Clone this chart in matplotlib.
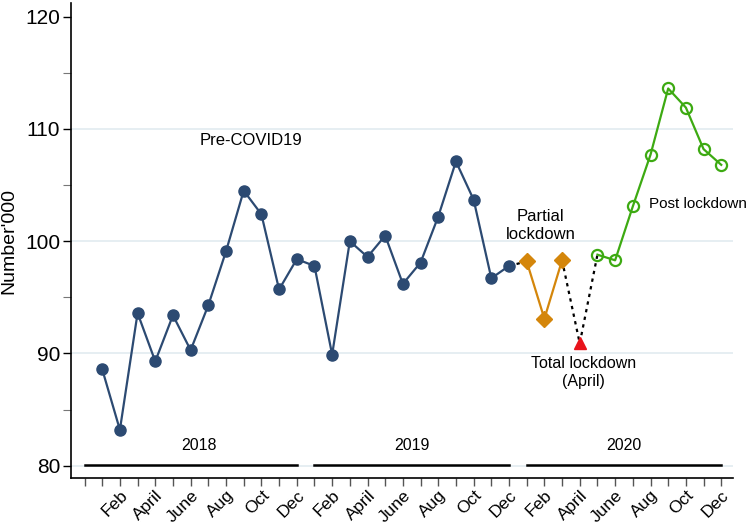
import numpy as np
import matplotlib.pyplot as plt

plt.rcParams['font.family'] = ['Liberation Sans', 'DejaVu Sans']

# Datos mensuales (miles), enero 2018 - diciembre 2020
pre_covid = [88.6, 83.2, 93.6, 89.3, 93.4, 90.3, 94.3, 99.1, 104.5, 102.4, 95.7, 98.4,
             97.8, 89.9, 100.0, 98.6, 100.5, 96.2, 98.1, 102.2, 107.1, 103.7, 96.7, 97.8]
partial = [98.2, 93.1, 98.3]          # ene - mar 2020
total = [90.9]                        # abril 2020
post = [98.8, 98.3, 103.1, 107.7, 113.6, 111.9, 108.2, 106.8]  # may - dic 2020

months = ["Feb", "April", "June", "Aug", "Oct", "Dec"]
years = ["2018", "2019", "2020"]
year_bar = [80.1, 80.1, 80.1]

navy = "#2c4a72"
orange = "#d4860b"
red = "#e8131b"
green = "#3daa12"

x_pre = np.arange(1, 25)
x_part = np.arange(25, 28)
x_tot = np.array([28])
x_post = np.arange(29, 37)

fig = plt.figure(figsize=(7.5, 5.26), dpi=100)
ax = fig.add_axes([0.095, 0.091, 0.882, 0.903])

for v in [80, 90, 100, 110]:
    ax.axhline(v, color="#e2ebf0", lw=1.2, zorder=0)

# Conexiones punteadas
ax.plot([24, 25], [pre_covid[-1], partial[0]], ls=(0, (1.5, 2)), color="black", lw=1.6, zorder=1)
ax.plot([27, 28, 29], [partial[-1], total[0], post[0]], ls=(0, (1.5, 2)), color="black", lw=1.6, zorder=1)

ax.plot(x_pre, pre_covid, color=navy, lw=1.6, marker="o", ms=8, zorder=3)
ax.plot(x_part, partial, color=orange, lw=1.6, marker="D", ms=8, zorder=3)
ax.plot(x_tot, total, color=red, lw=0, marker="^", ms=9, zorder=3)
ax.plot(x_post, post, color=green, lw=1.6, marker="o", ms=8, mfc="none", mew=1.6, zorder=3)

# Barras de año
for i, (yr, yb) in enumerate(zip(years, year_bar)):
    start = 12 * i + (0 if i == 0 else 1)
    end = 12 * (i + 1)
    ax.plot([start, end], [yb, yb], color="black", lw=1.8, zorder=2)
    ax.text((12 * i + 12 * (i + 1)) / 2 + 0.5, 81.1, yr, ha="center", va="bottom", fontsize=11.5)

ax.text(9.4, 109.0, "Pre-COVID19", ha="center", va="center", fontsize=12)
ax.text(25.8, 101.4, "Partial\nlockdown", ha="center", va="center", fontsize=12, linespacing=1.3)
ax.text(34.7, 103.3, "Post lockdown", ha="center", va="center", fontsize=11)
ax.text(28.2, 88.3, "Total lockdown\n(April)", ha="center", va="center", fontsize=11.5, linespacing=1.3)

ax.set_xlim(-0.75, 36.65)
ax.set_ylim(78.9, 121.2)
ax.set_xticks(np.arange(0, 37))
labels = [""] * 37
for k in range(37):
    if k >= 1 and k % 2 == 0:
        labels[k] = months[((k - 1) % 12) // 2]
ax.set_xticklabels(labels, rotation=45, ha="right", rotation_mode="anchor", fontsize=12.5)
ax.set_yticks([80, 90, 100, 110, 120])
ax.set_yticks([85, 95, 105, 115], minor=True)
ax.tick_params(axis="y", labelsize=15, length=6, width=1, pad=2)
ax.tick_params(axis="y", which="minor", length=6, width=0.8, color="#777777")
ax.tick_params(axis="x", length=6, width=1, color="#555555", pad=1)
ax.set_ylabel("Number'000", fontsize=14)
ax.yaxis.set_label_coords(-0.082, 0.5)

ax.spines["top"].set_visible(False)
ax.spines["right"].set_visible(False)
ax.spines["left"].set_linewidth(1.2)
ax.spines["bottom"].set_linewidth(1.2)

fig.savefig("out.png", dpi=100)
